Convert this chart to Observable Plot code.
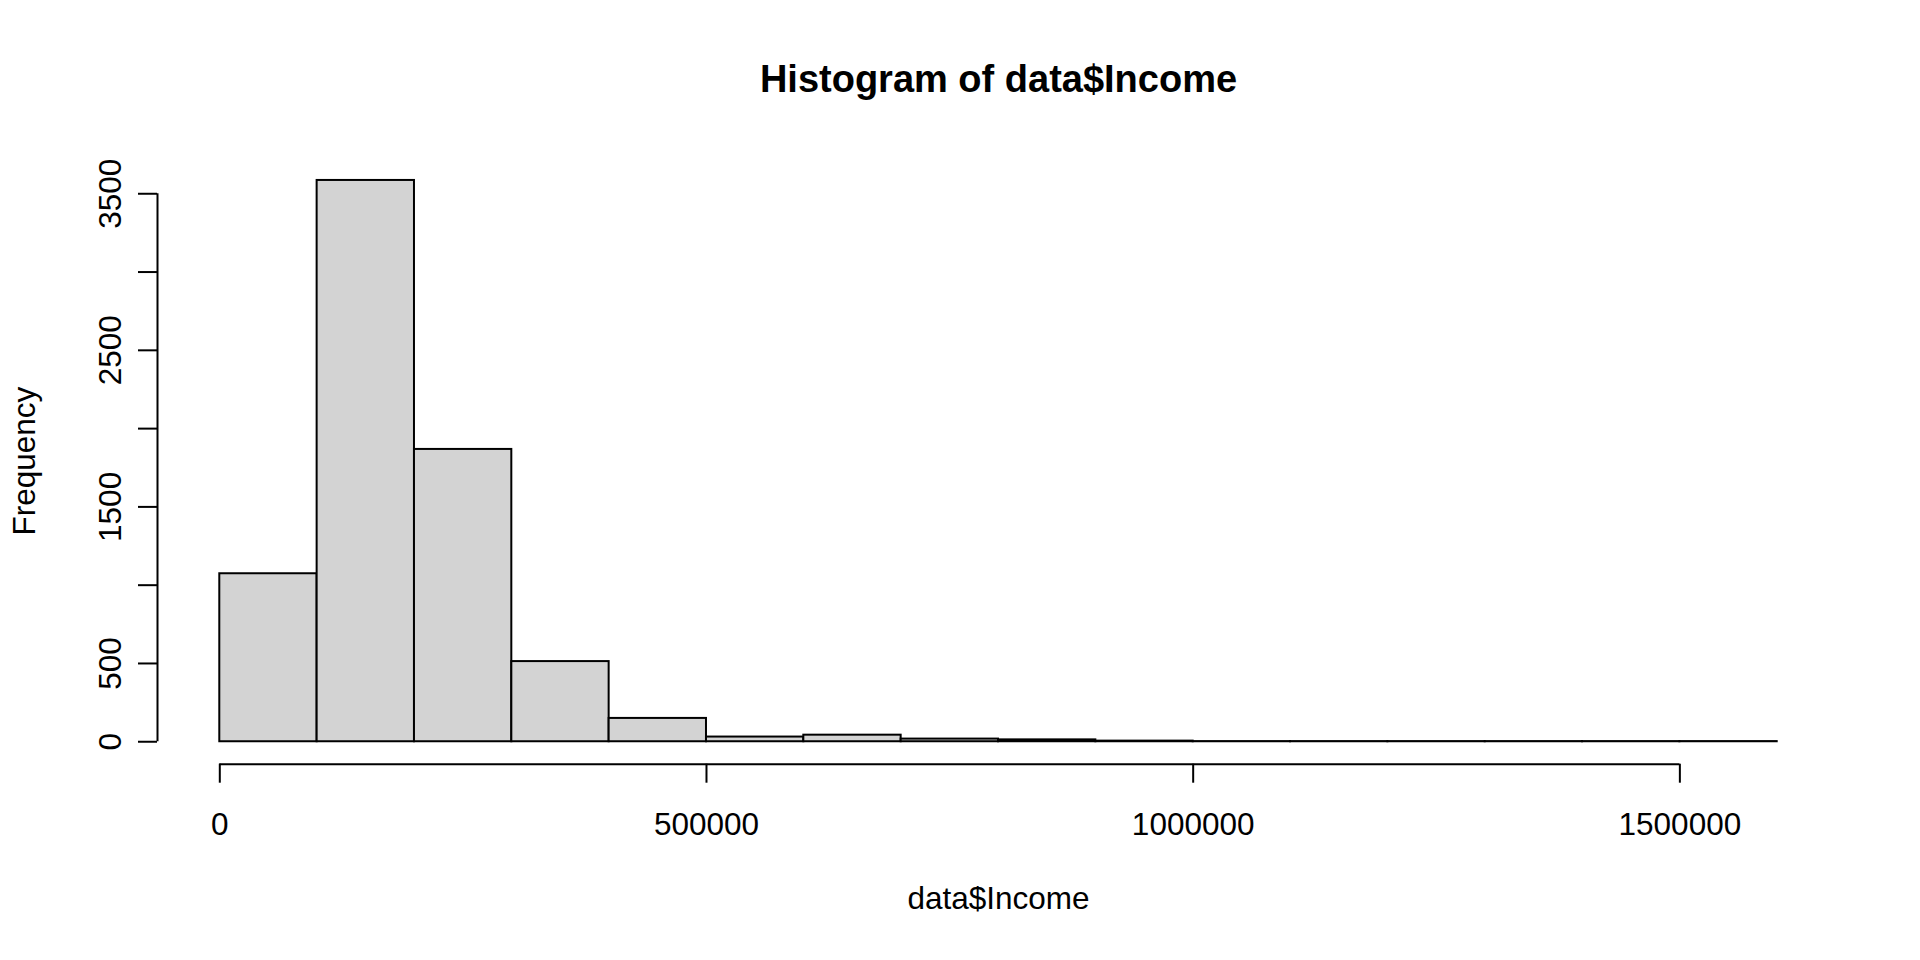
<!DOCTYPE html>
<html>
<head>
<meta charset="utf-8">
<script src="https://cdn.jsdelivr.net/npm/d3@7"></script>
<script src="https://cdn.jsdelivr.net/npm/@observablehq/plot@0.6"></script>
<style>
  html, body { margin: 0; padding: 0; background: #fff; }
</style>
</head>
<body>
<div id="chart"></div>
<script>
// Histogram bins (lower edge) and counts
const binStarts = [0, 100000, 200000, 300000, 400000, 500000, 600000, 700000,
                   800000, 900000, 1000000, 1100000, 1200000, 1300000, 1400000, 1500000];
const binWidth = 100000;
const counts = [1073, 3585, 1867, 512, 149, 30, 42, 17, 12, 4, 1, 1, 1, 1, 1, 1];

const xTicks = [0, 500000, 1000000, 1500000];
const xTickLabels = ["0", "500000", "1000000", "1500000"];
const yTicks = [0, 500, 1000, 1500, 2000, 2500, 3000, 3500];
const yTickLabels = ["0", "500", "", "1500", "", "2500", "", "3500"];

const title = "Histogram of data$Income";
const xLabel = "data$Income";
const yLabel = "Frequency";

const bins = binStarts.map((s, i) => ({x1: s, x2: s + binWidth, count: counts[i]}));

// R-style 4% axis extension
const xMin = binStarts[0], xMax = binStarts[binStarts.length - 1] + binWidth;
const xPad = (xMax - xMin) * 0.04;
const yMax = d3.max(counts);
const yPad = yMax * 0.04;

const font = "'Liberation Sans', Arial, Helvetica, sans-serif";

const chart = Plot.plot({
  width: 1920,
  height: 960,
  marginLeft: 157,
  marginRight: 81,
  marginTop: 157.5,
  marginBottom: 196.3,
  style: {fontFamily: font, fontSize: "31.5px", background: "#fff", color: "#000"},
  x: {domain: [xMin - xPad, xMax + xPad]},
  y: {domain: [-yPad, yMax + yPad]},
  marks: [
    Plot.rectY(bins, {x1: "x1", x2: "x2", y: "count", fill: "#D3D3D3", stroke: "#000", strokeWidth: 2}),
    // axis lines
    Plot.ruleY([-yPad], {x1: xTicks[0], x2: xTicks[xTicks.length - 1], stroke: "#000", strokeWidth: 2}),
    Plot.ruleX([xMin - xPad], {y1: yTicks[0], y2: yTicks[yTicks.length - 1], stroke: "#000", strokeWidth: 2}),
    Plot.axisX({
      ticks: xTicks, tickSize: 19, tickPadding: 29, strokeWidth: 2,
      tickFormat: (d) => xTickLabels[xTicks.indexOf(d)], label: null
    }),
    Plot.axisY({
      ticks: yTicks, tickSize: 19, tickPadding: 18, tickRotate: -90, strokeWidth: 2,
      tickFormat: (d) => yTickLabels[yTicks.indexOf(d)], label: null
    }),
    Plot.text([title], {frameAnchor: "top", dy: -78, fontSize: 38, fontWeight: "bold", textAnchor: "middle", lineAnchor: "middle"}),
    Plot.text([xLabel], {frameAnchor: "bottom", dy: 135, textAnchor: "middle", lineAnchor: "middle"}),
    Plot.text([yLabel], {frameAnchor: "left", dx: -132.8, rotate: -90, textAnchor: "middle", lineAnchor: "middle"})
  ]
});
document.getElementById("chart").appendChild(chart);
</script>
</body>
</html>
